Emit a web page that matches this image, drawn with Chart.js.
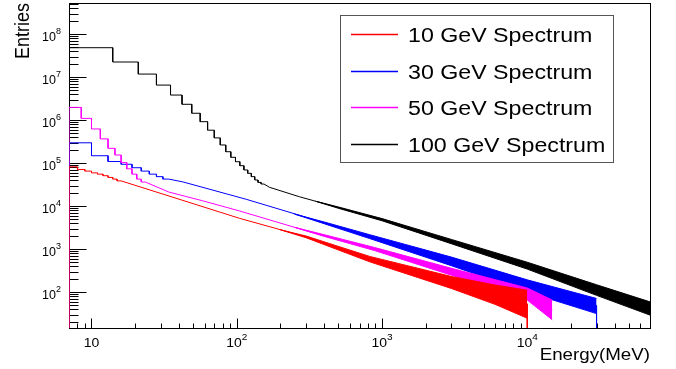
<!DOCTYPE html>
<html>
<head>
<meta charset="utf-8">
<script src="https://cdn.jsdelivr.net/npm/chart.js@4/dist/chart.umd.min.js"></script>
<style>
  html, body { margin: 0; padding: 0; background: #fff; }
  #wrap { width: 676px; height: 369px; position: relative; }
</style>
</head>
<body>
<div id="wrap"><canvas id="spectra"></canvas></div>
<script>
// ── Data ──────────────────────────────────────────────
const seriesLabels = ['10 GeV Spectrum', '30 GeV Spectrum', '50 GeV Spectrum', '100 GeV Spectrum'];

// axis decades that carry a label (10^n)
const xTickExps = [1, 2, 3, 4];
const yTickExps = [2, 3, 4, 5, 6, 7, 8];

// 10 GeV: 1 MeV bins at low energy, then the smooth part, then the noise band (upper / lower edge)
const redEdges  = [7, 8, 9, 10, 11, 12, 13, 14, 15, 16];
const redCounts = [8.3e4, 7.2e4, 6.6e4, 6.0e4, 5.6e4, 5.15e4, 4.7e4, 4.3e4, 3.9e4];
const redTailE  = [104.5, 300, 822, 3000, 10000];
const redTailV  = [5.26e3, 1.95e3, 596, 173, 54];
const redBandE  = [200, 300, 822, 3000, 6000, 10000];
const redBandHi = [2.84e3, 2.04e3, 684, 234, 148, 112];
const redBandLo = [2.84e3, 1.86e3, 513, 123, 52.5, 25];

// 30 GeV: 3 MeV bins
const blueEdges  = [7, 10, 13, 16, 19, 22, 25, 28, 31, 34];
const blueCounts = [3.0e5, 1.5e5, 1.1e5, 9.5e4, 7.9e4, 6.6e4, 5.6e4, 4.9e4, 4.3e4];
const blueTailE  = [42.5, 116, 270, 822, 3000, 10000, 30000];
const blueTailV  = [3.7e4, 1.46e4, 6.2e3, 1.97e3, 525, 141, 49];
const blueBandE  = [250, 400, 822, 3000, 10000, 30000];
const blueBandHi = [6.6e3, 4.32e3, 2.19e3, 661, 195, 72];
const blueBandLo = [6.6e3, 3.94e3, 1.78e3, 417, 102, 32];

// 50 GeV: 1.5 MeV bins
const magEdges  = [7, 8.5, 10, 11.5, 13, 14.5, 16, 17.5, 19, 20.5, 22, 23.5];
const magCounts = [2.0e6, 1.11e6, 6.3e5, 3.7e5, 2.23e5, 1.56e5, 1.04e5, 7.45e4, 5.6e4, 4.3e4, 3.67e4];
const magTailE  = [34, 58, 104.5, 317, 891, 3000, 10000, 14860];
const magTailV  = [2.15e4, 1.35e4, 7.8e3, 2.56e3, 1.02e3, 303, 91, 39];
const magBandE  = [250, 400, 891, 3000, 10000, 14860];
const magBandHi = [3.25e3, 2.19e3, 1.1e3, 363, 126, 66];
const magBandLo = [3.25e3, 2.0e3, 933, 251, 66, 23];

// 100 GeV: 7 MeV bins
const blackEdges  = [7, 14, 21, 28, 35, 42, 49, 56, 63, 70, 77, 84, 91, 98, 105, 112, 119, 126, 133, 140, 147, 154];
const blackCounts = [4.88e7, 2.27e7, 1.19e7, 6.6e6, 3.87e6, 2.36e6, 1.46e6, 9.3e5, 5.9e5, 3.9e5, 2.67e5,
                     1.86e5, 1.38e5, 1.09e5, 8.8e4, 7.0e4, 5.85e4, 4.9e4, 4.1e4, 3.6e4, 3.3e4];
const blackTailE  = [168, 270, 1000, 3000, 10000, 30000, 70000];
const blackTailV  = [2.77e4, 1.67e4, 4.9e3, 1.51e3, 417, 112, 43];
const blackBandE  = [350, 500, 1000, 3000, 10000, 30000, 70000];
const blackBandHi = [1.31e4, 9.66e3, 5.19e3, 1.70e3, 501, 150, 60];
const blackBandLo = [1.31e4, 9.02e3, 4.62e3, 1.35e3, 347, 85, 29.5];

// ── Build line points ─────────────────────────────────
const FLOOR = 1; // below the axis minimum, so the histogram edge runs into the frame

function histPoints(edges, counts, tailE, tailV, dropAtEnd) {
  const pts = [{ x: edges[0], y: FLOOR }];
  counts.forEach((c, i) => {
    pts.push({ x: edges[i], y: c }, { x: edges[i + 1], y: c });
  });
  tailE.forEach((e, i) => pts.push({ x: e, y: tailV[i] }));
  if (dropAtEnd) pts.push({ x: tailE[tailE.length - 1], y: FLOOR });
  return pts;
}
const pairs = (xs, ys) => xs.map((x, i) => ({ x, y: ys[i] }));

const series = [
  { color: '#ff0000', order: 0, edges: redEdges,   counts: redCounts,   tailE: redTailE,   tailV: redTailV,
    bandE: redBandE,   hi: redBandHi,   lo: redBandLo,   drop: true },
  { color: '#0000ff', order: 2, edges: blueEdges,  counts: blueCounts,  tailE: blueTailE,  tailV: blueTailV,
    bandE: blueBandE,  hi: blueBandHi,  lo: blueBandLo,  drop: true },
  { color: '#ff00ff', order: 1, edges: magEdges,   counts: magCounts,   tailE: magTailE,   tailV: magTailV,
    bandE: magBandE,   hi: magBandHi,   lo: magBandLo,   drop: false },
  { color: '#000000', order: 3, edges: blackEdges, counts: blackCounts, tailE: blackTailE, tailV: blackTailV,
    bandE: blackBandE, hi: blackBandHi, lo: blackBandLo, drop: false },
];

const datasets = [];
series.forEach((s, k) => {
  const common = { borderColor: s.color, borderWidth: 1, pointRadius: 0, tension: 0, order: s.order };
  datasets.push({ ...common, label: seriesLabels[k], fill: false,
                  data: histPoints(s.edges, s.counts, s.tailE, s.tailV, s.drop) });
  datasets.push({ ...common, label: seriesLabels[k] + ' (upper)', fill: false, data: pairs(s.bandE, s.hi) });
  datasets.push({ ...common, label: seriesLabels[k] + ' (lower)', fill: '-1', backgroundColor: s.color,
                  data: pairs(s.bandE, s.lo) });
});

// ── ROOT-style frame, inward ticks, labels, legend ───
const FONT = "'Liberation Sans', Arial, Helvetica, sans-serif";

function textAt(ctx, text, x, y, size, sx) {
  ctx.save();
  ctx.font = size + 'px ' + FONT;
  ctx.translate(x, y);
  ctx.scale(sx, 1);
  ctx.fillText(text, 0, 0);
  ctx.restore();
}
function textWidth(ctx, text, size, sx) {
  ctx.font = size + 'px ' + FONT;
  return ctx.measureText(text).width * sx;
}

function powerLabel(ctx, exp, x, baseY, sx, align) {
  const wb = textWidth(ctx, '10', 12.5, sx);
  const we = exp === 1 ? 0 : textWidth(ctx, String(exp), 9, sx);
  const w = wb + we;
  const left = align === 'right' ? x - w : x - w / 2;
  textAt(ctx, '10', left, baseY, 12.5, sx);
  if (exp !== 1) textAt(ctx, String(exp), left + wb, baseY - 7, 9, sx);
}

function logTicks(min, max) {
  const out = [];
  for (let d = Math.floor(Math.log10(min)); d <= Math.ceil(Math.log10(max)); d++) {
    for (let m = 1; m <= 9; m++) {
      const v = m * Math.pow(10, d);
      if (v >= min && v <= max) out.push({ v, major: m === 1 });
    }
  }
  return out;
}

const rootFrame = {
  id: 'rootFrame',
  beforeDatasetsDraw(chart) {
    const { ctx, chartArea: a, scales: { x, y } } = chart;
    ctx.save();
    ctx.strokeStyle = '#000';
    ctx.fillStyle = '#000';
    ctx.lineWidth = 1;
    ctx.strokeRect(a.left + 0.5, a.top + 0.5, a.right - a.left, a.bottom - a.top);

    ctx.beginPath();
    logTicks(x.min, x.max).forEach(t => {
      const px = Math.round(x.getPixelForValue(t.v)) + 0.5;
      ctx.moveTo(px, a.bottom + 0.5);
      ctx.lineTo(px, a.bottom + 0.5 - (t.major ? 10 : 5));
    });
    logTicks(y.min, y.max).forEach(t => {
      const py = Math.round(y.getPixelForValue(t.v)) + 0.5;
      ctx.moveTo(a.left + 0.5, py);
      ctx.lineTo(a.left + 0.5 + (t.major ? 17 : 9), py);
    });
    ctx.stroke();

    ctx.textBaseline = 'alphabetic';
    ctx.textAlign = 'left';
    xTickExps.forEach(n => powerLabel(ctx, n, x.getPixelForValue(Math.pow(10, n)), a.bottom + 18.5, 1.12, 'center'));
    yTickExps.forEach(n => powerLabel(ctx, n, a.left - 8, y.getPixelForValue(Math.pow(10, n)) + 6.5, 1.0, 'right'));

    // axis titles
    const tw = textWidth(ctx, 'Energy(MeV)', 16.3, 1.15);
    textAt(ctx, 'Energy(MeV)', a.right - tw, 360, 16.3, 1.15);

    ctx.save();
    ctx.font = '18px ' + FONT;
    ctx.translate(29, 3);
    ctx.rotate(-Math.PI / 2);
    ctx.scale(1, 1.1);
    ctx.textAlign = 'right';
    ctx.fillText('Entries', 0, 0);
    ctx.restore();
    ctx.restore();
  },
  afterDatasetsDraw(chart) {
    const { ctx } = chart;
    ctx.save();
    ctx.fillStyle = '#fff';
    ctx.fillRect(341, 16, 273, 147);
    ctx.strokeStyle = '#555';
    ctx.lineWidth = 1;
    ctx.strokeRect(340.5, 15.5, 273, 147);
    series.forEach((s, i) => {
      const ly = Math.round(34 + i * 36.7) + 0.5;
      ctx.strokeStyle = s.color;
      ctx.lineWidth = 1.4;
      ctx.beginPath();
      ctx.moveTo(351, ly);
      ctx.lineTo(398, ly);
      ctx.stroke();
      ctx.fillStyle = '#000';
      textAt(ctx, seriesLabels[i], 408, ly + 7.3, 20, 1.16);
    });
    ctx.restore();
  }
};

new Chart(document.getElementById('spectra'), {
  type: 'line',
  data: { datasets },
  options: {
    responsive: true,
    maintainAspectRatio: false,
    animation: false,
    devicePixelRatio: 1,
    layout: { padding: { left: 69, top: 3, right: 26, bottom: 41 } },
    plugins: { legend: { display: false }, tooltip: { enabled: false } },
    scales: {
      x: { type: 'logarithmic', min: 7, max: 70000, display: false },
      y: { type: 'logarithmic', min: 14.8, max: 5.35e8, display: false },
    },
  },
  plugins: [rootFrame],
});
</script>
</body>
</html>
